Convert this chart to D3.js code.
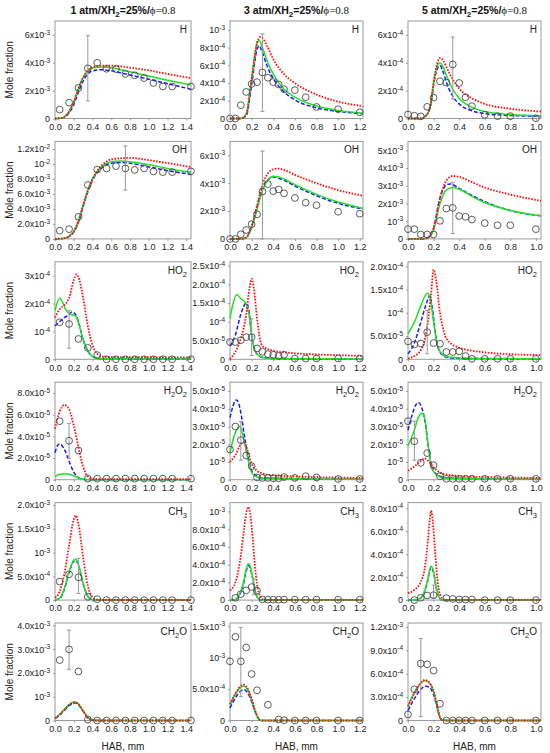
<!DOCTYPE html>
<html lang="en">
<head>
<meta charset="UTF-8">
<title>Mole fraction profiles</title>
<script src="https://d3js.org/d3.v7.min.js"></script>
<style>
  body { margin: 0; background: #fff; }
  svg { display: block; font-family: "Liberation Sans", Arial, sans-serif; }
  .tick text { fill: #222; font-size: 9px; }
  .tick line { stroke: #999; }
</style>
</head>
<body>
<script>
// ---- columns (pressure) ----
const titles = ["1 atm", "3 atm", "5 atm"];
const xMax = [1.45, 1.23, 1.04];
const xTicks = [
  [0, 0.2, 0.4, 0.6, 0.8, 1.0, 1.2, 1.4],
  [0, 0.2, 0.4, 0.6, 0.8, 1.0, 1.2],
  [0, 0.2, 0.4, 0.6, 0.8, 1.0]
];

// ---- H ----
const yMaxH = [7e-3, 1.1e-3, 7e-4];
const ticksH = [["0","2x10^-3","4x10^-3","6x10^-3"], ["0","2x10^-4","4x10^-4","6x10^-4","8x10^-4","10^-3"], ["0","2x10^-4","4x10^-4","6x10^-4"]];
const expH = [
  [[0.05,0.64e-3],[0.15,1.14e-3],[0.25,2.2e-3],[0.35,3.6e-3],[0.45,4.0e-3],[0.55,3.57e-3],[0.65,3.55e-3],[0.75,3.2e-3],[0.85,3.1e-3],[0.95,2.9e-3],[1.05,2.55e-3],[1.15,2.3e-3],[1.25,2.3e-3],[1.45,2.3e-3]],
  [[0,0],[0.05,0],[0.1,0.15e-3],[0.15,0.3e-3],[0.2,0.39e-3],[0.25,0.41e-3],[0.3,0.52e-3],[0.35,0.46e-3],[0.4,0.41e-3],[0.45,0.385e-3],[0.5,0.33e-3],[0.6,0.32e-3],[0.7,0.24e-3],[0.8,0.13e-3],[1.0,0.105e-3],[1.2,0.07e-3]],
  [[0,0.29e-4],[0.05,0.2e-4],[0.1,0.15e-4],[0.15,0.84e-4],[0.2,1.5e-4],[0.25,2.67e-4],[0.3,2.58e-4],[0.35,3.88e-4],[0.4,2.55e-4],[0.45,1.52e-4],[0.5,0.89e-4],[0.6,0.27e-4],[0.7,0.17e-4],[0.8,0.17e-4],[1.0,0.02e-4]]
];
const errH = [[0.35,1.26e-3,5.95e-3],[0.3,0.08e-3,0.955e-3],[0.35,1.4e-4,5.85e-4]];
const dottedH = [
  [[0,0],[0.05,0.02e-3],[0.1,0.12e-3],[0.15,0.5e-3],[0.2,1.2e-3],[0.25,2.15e-3],[0.3,2.95e-3],[0.35,3.45e-3],[0.4,3.68e-3],[0.5,3.8e-3],[0.6,3.8e-3],[0.8,3.65e-3],[1.0,3.45e-3],[1.2,3.2e-3],[1.45,2.9e-3]],
  [[0,0],[0.1,0],[0.15,0.05e-3],[0.2,0.45e-3],[0.25,0.85e-3],[0.28,0.92e-3],[0.3,0.91e-3],[0.35,0.8e-3],[0.4,0.67e-3],[0.5,0.5e-3],[0.6,0.4e-3],[0.8,0.27e-3],[1.0,0.19e-3],[1.23,0.14e-3]],
  [[0,0],[0.1,0],[0.15,0.3e-4],[0.18,1.2e-4],[0.2,2.6e-4],[0.23,4.0e-4],[0.25,4.35e-4],[0.28,4.1e-4],[0.3,3.7e-4],[0.35,2.8e-4],[0.4,2.15e-4],[0.5,1.45e-4],[0.6,1.05e-4],[0.8,0.7e-4],[1.04,0.5e-4]]
];
const solidH = [
  [[0,0],[0.05,0.02e-3],[0.1,0.12e-3],[0.15,0.5e-3],[0.2,1.2e-3],[0.25,2.15e-3],[0.3,2.95e-3],[0.35,3.4e-3],[0.4,3.62e-3],[0.5,3.7e-3],[0.6,3.65e-3],[0.8,3.35e-3],[1.0,3.05e-3],[1.2,2.75e-3],[1.45,2.4e-3]],
  [[0,0],[0.1,0],[0.15,0.05e-3],[0.2,0.45e-3],[0.25,0.85e-3],[0.27,0.88e-3],[0.3,0.8e-3],[0.35,0.63e-3],[0.4,0.5e-3],[0.5,0.33e-3],[0.6,0.24e-3],[0.8,0.14e-3],[1.0,0.09e-3],[1.23,0.06e-3]],
  [[0,0],[0.1,0],[0.15,0.3e-4],[0.18,1.2e-4],[0.2,2.5e-4],[0.23,3.8e-4],[0.25,4.0e-4],[0.28,3.6e-4],[0.3,3.1e-4],[0.35,2.1e-4],[0.4,1.45e-4],[0.5,0.8e-4],[0.6,0.5e-4],[0.8,0.28e-4],[1.04,0.18e-4]]
];
const dashedH = [
  [[0,0],[0.05,0.01e-3],[0.1,0.08e-3],[0.15,0.4e-3],[0.2,1.0e-3],[0.25,1.9e-3],[0.3,2.7e-3],[0.35,3.2e-3],[0.4,3.42e-3],[0.5,3.5e-3],[0.6,3.42e-3],[0.8,3.12e-3],[1.0,2.82e-3],[1.2,2.5e-3],[1.45,2.1e-3]],
  [[0,0],[0.1,0],[0.15,0.03e-3],[0.2,0.38e-3],[0.25,0.78e-3],[0.27,0.82e-3],[0.3,0.74e-3],[0.35,0.57e-3],[0.4,0.45e-3],[0.5,0.3e-3],[0.6,0.21e-3],[0.8,0.12e-3],[1.0,0.08e-3],[1.23,0.055e-3]],
  [[0,0],[0.1,0],[0.15,0.3e-4],[0.18,1.1e-4],[0.2,2.4e-4],[0.23,3.6e-4],[0.25,3.8e-4],[0.28,3.2e-4],[0.3,2.6e-4],[0.35,1.6e-4],[0.4,1.05e-4],[0.5,0.55e-4],[0.6,0.35e-4],[0.8,0.22e-4],[1.04,0.15e-4]]
];

// ---- OH ----
const yMaxOH = [1.3e-2, 7e-3, 5.5e-3];
const ticksOH = [["0","2.0x10^-3","4.0x10^-3","6.0x10^-3","8.0x10^-3","10^-2","1.2x10^-2"], ["0","2x10^-3","4x10^-3","6x10^-3"], ["0","10^-3","2x10^-3","3x10^-3","4x10^-3","5x10^-3"]];
const expOH = [
  [[0.05,1.1e-3],[0.15,1.3e-3],[0.25,2.95e-3],[0.35,7.2e-3],[0.45,9.25e-3],[0.55,9.4e-3],[0.65,9.7e-3],[0.75,9.4e-3],[0.85,9.2e-3],[0.95,9.4e-3],[1.05,9.0e-3],[1.15,8.9e-3],[1.25,8.9e-3],[1.45,9.0e-3]],
  [[0,0],[0.05,0],[0.1,0.33e-3],[0.15,0.64e-3],[0.2,1.06e-3],[0.25,1.76e-3],[0.3,3.4e-3],[0.35,3.93e-3],[0.4,3.43e-3],[0.45,3.55e-3],[0.5,3.27e-3],[0.6,2.94e-3],[0.7,2.6e-3],[0.8,2.42e-3],[1.0,1.95e-3],[1.2,1.81e-3]],
  [[0,0.55e-3],[0.05,0.55e-3],[0.1,0.25e-3],[0.15,0.25e-3],[0.2,0.25e-3],[0.25,1.02e-3],[0.3,1.71e-3],[0.35,1.75e-3],[0.4,1.29e-3],[0.45,1.25e-3],[0.5,1.09e-3],[0.6,0.89e-3],[0.7,0.77e-3],[0.8,0.77e-3],[1.0,0.55e-3]]
];
const errOH = [[0.75,6.5e-3,12.4e-3],[0.3,0,6.3e-3],[0.35,0.3e-3,3.2e-3]];
const dottedOH = [
  [[0,0],[0.1,0.1e-3],[0.15,0.35e-3],[0.2,1.0e-3],[0.25,2.4e-3],[0.3,4.5e-3],[0.35,6.5e-3],[0.4,8.0e-3],[0.5,9.8e-3],[0.6,10.6e-3],[0.8,10.8e-3],[1.0,10.5e-3],[1.2,10.1e-3],[1.45,9.6e-3]],
  [[0,0],[0.1,0],[0.15,0.1e-3],[0.2,0.9e-3],[0.25,2.4e-3],[0.3,3.9e-3],[0.35,4.7e-3],[0.4,5.0e-3],[0.45,5.05e-3],[0.5,4.95e-3],[0.6,4.6e-3],[0.8,4.0e-3],[1.0,3.5e-3],[1.23,3.1e-3]],
  [[0,0],[0.1,0],[0.15,0.05e-3],[0.2,0.6e-3],[0.25,2.3e-3],[0.3,3.3e-3],[0.35,3.55e-3],[0.4,3.5e-3],[0.5,3.2e-3],[0.6,2.9e-3],[0.8,2.5e-3],[1.04,2.15e-3]]
];
const solidOH = [
  [[0,0],[0.1,0.1e-3],[0.15,0.35e-3],[0.2,1.0e-3],[0.25,2.4e-3],[0.3,4.5e-3],[0.35,6.5e-3],[0.4,8.0e-3],[0.5,9.7e-3],[0.6,10.3e-3],[0.7,10.4e-3],[1.0,9.9e-3],[1.2,9.4e-3],[1.45,8.9e-3]],
  [[0,0],[0.1,0],[0.15,0.08e-3],[0.2,0.8e-3],[0.25,2.1e-3],[0.3,3.5e-3],[0.35,4.2e-3],[0.4,4.5e-3],[0.45,4.45e-3],[0.5,4.3e-3],[0.6,3.9e-3],[0.8,3.2e-3],[1.0,2.65e-3],[1.23,2.2e-3]],
  [[0,0],[0.1,0],[0.15,0.04e-3],[0.2,0.5e-3],[0.25,2.0e-3],[0.3,2.75e-3],[0.35,2.9e-3],[0.4,2.8e-3],[0.5,2.4e-3],[0.6,2.05e-3],[0.8,1.6e-3],[1.04,1.3e-3]]
];
const dashedOH = [
  [[0,0],[0.1,0.07e-3],[0.15,0.3e-3],[0.2,0.9e-3],[0.25,2.2e-3],[0.3,4.3e-3],[0.35,6.3e-3],[0.4,7.8e-3],[0.5,9.5e-3],[0.6,10.1e-3],[0.7,10.2e-3],[1.0,9.6e-3],[1.2,9.1e-3],[1.45,8.6e-3]],
  [[0,0],[0.1,0],[0.15,0.1e-3],[0.2,0.9e-3],[0.25,2.3e-3],[0.3,3.6e-3],[0.35,4.25e-3],[0.4,4.45e-3],[0.45,4.35e-3],[0.5,4.2e-3],[0.6,3.8e-3],[0.8,3.1e-3],[1.0,2.55e-3],[1.23,2.15e-3]],
  [[0,0],[0.1,0],[0.15,0.05e-3],[0.2,0.6e-3],[0.25,2.3e-3],[0.3,3.05e-3],[0.33,3.1e-3],[0.4,2.85e-3],[0.5,2.45e-3],[0.6,2.1e-3],[0.8,1.6e-3],[1.04,1.3e-3]]
];

// ---- HO2 ----
const yMaxHO2 = [3.5e-4, 2.6e-4, 2.1e-4];
const ticksHO2 = [["0","10^-4","2x10^-4","3x10^-4"], ["0","5.0x10^-5","10^-4","1.5x10^-4","2.0x10^-4","2.5x10^-4"], ["0","5.0x10^-5","10^-4","1.5x10^-4","2.0x10^-4"]];
const expHO2 = [
  [[0.05,1.33e-4],[0.15,1.27e-4],[0.25,0.73e-4],[0.35,0.41e-4],[0.45,0.15e-4],[0.55,0],[0.65,0],[0.75,0],[0.85,0],[0.95,0],[1.05,0],[1.15,0],[1.25,0],[1.45,0]],
  [[0,4.6e-5],[0.05,4.6e-5],[0.1,5.1e-5],[0.15,5.9e-5],[0.2,5.9e-5],[0.25,2.9e-5],[0.3,2.0e-5],[0.35,1.4e-5],[0.4,1.2e-5],[0.45,0.9e-5],[0.5,1.2e-5],[0.6,0.2e-5],[0.7,0.2e-5],[0.8,0.2e-5],[1.0,0.2e-5],[1.2,0.2e-5]],
  [[0,3.86e-5],[0.05,3.2e-5],[0.1,3.4e-5],[0.15,5.86e-5],[0.2,3.5e-5],[0.25,3.36e-5],[0.3,1.57e-5],[0.35,1.57e-5],[0.4,1.7e-5],[0.45,0.7e-5],[0.5,0.1e-5],[0.6,0.1e-5],[0.7,0.1e-5],[0.8,0.1e-5],[1.0,0.1e-5]]
];
const errHO2 = [[0.15,0.4e-4,1.75e-4],[0.2,1.0e-5,10.8e-5],[0.15,1.2e-5,10.5e-5]];
const dottedHO2 = [
  [[0,1.5e-4],[0.05,1.8e-4],[0.1,1.95e-4],[0.15,2.2e-4],[0.2,2.85e-4],[0.23,3.05e-4],[0.26,2.85e-4],[0.3,2.2e-4],[0.35,1.2e-4],[0.4,0.5e-4],[0.45,0.2e-4],[0.5,0.1e-4],[0.6,0.08e-4],[1.45,0.07e-4]],
  [[0,0.05e-5],[0.05,2e-5],[0.1,5.5e-5],[0.15,12e-5],[0.18,19e-5],[0.2,21.5e-5],[0.22,19e-5],[0.25,11e-5],[0.28,5e-5],[0.3,3.5e-5],[0.4,2.3e-5],[0.6,1.6e-5],[0.8,1.3e-5],[1.0,1.1e-5],[1.23,0.9e-5]],
  [[0,0.2e-5],[0.05,0.7e-5],[0.1,2e-5],[0.13,4e-5],[0.16,9e-5],[0.18,14e-5],[0.2,19.3e-5],[0.22,17e-5],[0.25,10e-5],[0.28,6e-5],[0.3,4.5e-5],[0.4,2.5e-5],[0.6,1.5e-5],[0.8,1.1e-5],[1.04,0.9e-5]]
];
const solidHO2 = [
  [[0,1.75e-4],[0.05,2.2e-4],[0.08,2.05e-4],[0.12,1.75e-4],[0.18,1.6e-4],[0.22,1.55e-4],[0.25,1.3e-4],[0.3,0.7e-4],[0.35,0.3e-4],[0.4,0.1e-4],[0.5,0.02e-4],[1.45,0.01e-4]],
  [[0,11e-5],[0.03,15e-5],[0.06,17.3e-5],[0.1,16.2e-5],[0.15,14.8e-5],[0.18,11e-5],[0.2,6e-5],[0.23,2.5e-5],[0.27,0.9e-5],[0.3,0.5e-5],[0.4,0.2e-5],[1.23,0.05e-5]],
  [[0,5.5e-5],[0.05,8e-5],[0.1,11.5e-5],[0.15,14.2e-5],[0.17,13.5e-5],[0.2,8e-5],[0.23,3e-5],[0.27,1e-5],[0.3,0.6e-5],[0.4,0.3e-5],[1.04,0.1e-5]]
];
const dashedHO2 = [
  [[0,1.2e-4],[0.05,1.35e-4],[0.1,1.5e-4],[0.15,1.6e-4],[0.18,1.7e-4],[0.22,1.6e-4],[0.25,1.35e-4],[0.3,0.7e-4],[0.35,0.3e-4],[0.4,0.1e-4],[0.5,0.02e-4],[1.45,0.01e-4]],
  [[0,3.5e-5],[0.05,6.5e-5],[0.1,12e-5],[0.15,15e-5],[0.18,12e-5],[0.2,6.5e-5],[0.23,2.5e-5],[0.27,0.9e-5],[0.3,0.5e-5],[0.4,0.2e-5],[1.23,0.05e-5]],
  [[0,1.2e-5],[0.05,3.5e-5],[0.1,8e-5],[0.15,12.5e-5],[0.17,13.7e-5],[0.19,11e-5],[0.22,4.5e-5],[0.25,1.5e-5],[0.3,0.5e-5],[0.4,0.2e-5],[1.04,0.1e-5]]
];

// ---- H2O2 ----
const yMaxH2O2 = [9e-5, 5.5e-5, 5.5e-5];
const ticksH2O2 = [["0","2.0x10^-5","4.0x10^-5","6.0x10^-5","8.0x10^-5"], ["0","10^-5","2.0x10^-5","3.0x10^-5","4.0x10^-5","5.0x10^-5"], ["0","10^-5","2.0x10^-5","3.0x10^-5","4.0x10^-5","5.0x10^-5"]];
const expH2O2 = [
  [[0.05,5.4e-5],[0.15,3.6e-5],[0.25,2.7e-5],[0.35,0.1e-5],[0.45,0.1e-5],[0.55,0.1e-5],[0.65,0.1e-5],[0.75,0.1e-5],[0.85,0.1e-5],[0.95,0.1e-5],[1.05,0.1e-5],[1.15,0.1e-5],[1.25,0.1e-5],[1.45,0.1e-5]],
  [[0,1.7e-5],[0.05,3.0e-5],[0.1,2.23e-5],[0.15,1.37e-5],[0.2,0.76e-5],[0.25,0.13e-5],[0.3,0.1e-5],[0.35,0.1e-5],[0.4,0.08e-5],[0.45,0.08e-5],[0.5,0.15e-5],[0.6,0.1e-5],[0.7,0.2e-5],[0.8,0.13e-5],[1.0,0.04e-5],[1.2,0.04e-5]],
  [[0,3.3e-5],[0.05,2.17e-5],[0.1,0.95e-5],[0.15,1.5e-5],[0.2,0.82e-5],[0.25,0.2e-5],[0.3,0.05e-5],[0.35,0.05e-5],[0.4,0.05e-5],[0.45,0.05e-5],[0.5,0.05e-5],[0.6,0.05e-5],[0.7,0.05e-5],[0.8,0.05e-5],[1.0,0.05e-5]]
];
const errH2O2 = [[0.15,1.95e-5,5.2e-5],[0.1,1.1e-5,3.28e-5],[0.05,1.1e-5,3.3e-5]];
const dottedH2O2 = [
  [[0,4.7e-5],[0.05,6.3e-5],[0.1,6.9e-5],[0.15,6.5e-5],[0.2,5.0e-5],[0.25,3.0e-5],[0.3,1.2e-5],[0.35,0.3e-5],[0.4,0.1e-5],[0.5,0.05e-5],[1.45,0.05e-5]],
  [[0,1.0e-5],[0.05,1.4e-5],[0.1,2.0e-5],[0.13,2.1e-5],[0.16,1.7e-5],[0.2,0.9e-5],[0.25,0.5e-5],[0.3,0.35e-5],[0.4,0.25e-5],[0.6,0.18e-5],[1.0,0.12e-5],[1.23,0.1e-5]],
  [[0,0.5e-5],[0.05,0.75e-5],[0.1,1.05e-5],[0.13,1.2e-5],[0.16,1.05e-5],[0.2,0.7e-5],[0.25,0.4e-5],[0.3,0.3e-5],[0.4,0.2e-5],[0.6,0.15e-5],[1.04,0.1e-5]]
];
const solidH2O2 = [
  [[0,0.3e-5],[0.05,0.5e-5],[0.1,0.55e-5],[0.15,0.5e-5],[0.2,0.35e-5],[0.25,0.15e-5],[0.3,0.05e-5],[0.35,0],[1.45,0]],
  [[0,1.5e-5],[0.03,2.3e-5],[0.06,2.8e-5],[0.09,3.0e-5],[0.12,2.5e-5],[0.15,1.6e-5],[0.18,0.8e-5],[0.2,0.4e-5],[0.25,0.15e-5],[0.3,0.08e-5],[1.23,0.02e-5]],
  [[0,1.9e-5],[0.05,2.8e-5],[0.08,3.5e-5],[0.11,3.75e-5],[0.13,3.5e-5],[0.16,1.8e-5],[0.18,0.8e-5],[0.2,0.45e-5],[0.25,0.15e-5],[0.3,0.08e-5],[1.04,0.02e-5]]
];
const dashedH2O2 = [
  [[0,2.5e-5],[0.03,3.2e-5],[0.05,3.3e-5],[0.1,2.8e-5],[0.15,1.7e-5],[0.2,0.7e-5],[0.25,0.2e-5],[0.3,0.05e-5],[0.4,0],[1.45,0]],
  [[0,3.5e-5],[0.03,4.2e-5],[0.06,4.5e-5],[0.1,3.8e-5],[0.13,2.6e-5],[0.17,1.2e-5],[0.2,0.5e-5],[0.25,0.2e-5],[0.3,0.1e-5],[1.23,0.02e-5]],
  [[0,2.8e-5],[0.03,3.6e-5],[0.06,4.2e-5],[0.08,4.35e-5],[0.1,4.2e-5],[0.13,3.4e-5],[0.16,1.8e-5],[0.18,0.9e-5],[0.2,0.5e-5],[0.25,0.2e-5],[0.3,0.1e-5],[1.04,0.02e-5]]
];

// ---- CH3 ----
const yMaxCH3 = [2.05e-3, 1.1e-3, 8.5e-4];
const ticksCH3 = [["0","5.0x10^-4","10^-3","1.5x10^-3","2.0x10^-3"], ["0","2.0x10^-4","4.0x10^-4","6.0x10^-4","8.0x10^-4","10^-3"], ["0","2.0x10^-4","4.0x10^-4","6.0x10^-4","8.0x10^-4"]];
const expCH3 = [
  [[0.05,3.9e-4],[0.15,5.4e-4],[0.25,4.8e-4],[0.35,0.7e-4],[0.45,0.2e-4],[0.55,0],[0.65,0],[0.75,0],[0.85,0],[0.95,0],[1.05,0],[1.15,0],[1.25,0],[1.45,0]],
  [[0.05,0.26e-4],[0.1,0.68e-4],[0.15,1.1e-4],[0.2,1.47e-4],[0.25,1.06e-4],[0.3,0.08e-4],[0.35,0.05e-4],[0.4,0.05e-4],[0.45,0.05e-4],[0.5,0.05e-4],[0.6,0.05e-4],[0.7,0.05e-4],[0.8,0.05e-4],[1.0,0.05e-4],[1.2,0.05e-4]],
  [[0.05,0],[0.1,0.2e-4],[0.15,0.4e-4],[0.2,0.43e-4],[0.3,0.17e-4],[0.35,0.1e-4],[0.4,0.05e-4],[0.45,0.05e-4],[0.5,0.05e-4],[0.6,0],[0.7,0],[0.8,0],[1.0,0]]
];
const errCH3 = [[0.25,1.4e-4,8.8e-4],[0.22,0.6e-4,2.4e-4],[0.2,0.15e-4,1.3e-4]];
const dottedCH3 = [
  [[0,0.5e-4],[0.05,1.8e-4],[0.1,5.5e-4],[0.15,11.5e-4],[0.2,17e-4],[0.22,17.8e-4],[0.25,16e-4],[0.3,9e-4],[0.35,3e-4],[0.4,0.7e-4],[0.45,0.1e-4],[0.5,0.02e-4],[1.45,0.02e-4]],
  [[0,1.1e-4],[0.05,2.0e-4],[0.08,3.5e-4],[0.1,5e-4],[0.13,8e-4],[0.15,9.8e-4],[0.17,10.5e-4],[0.19,9.5e-4],[0.21,7e-4],[0.23,4e-4],[0.25,1.8e-4],[0.28,0.4e-4],[0.3,0.1e-4],[0.35,0.02e-4],[1.23,0.02e-4]],
  [[0,0.6e-4],[0.05,0.9e-4],[0.1,1.6e-4],[0.13,2.7e-4],[0.15,4.5e-4],[0.17,7e-4],[0.18,7.8e-4],[0.19,7.3e-4],[0.21,4.5e-4],[0.23,1.8e-4],[0.25,0.5e-4],[0.28,0.05e-4],[0.3,0.02e-4],[1.04,0.02e-4]]
];
const solidCH3 = [
  [[0,0.02e-4],[0.05,0.4e-4],[0.1,2.5e-4],[0.15,6e-4],[0.2,8.4e-4],[0.22,8.6e-4],[0.25,7.5e-4],[0.3,3.5e-4],[0.35,0.8e-4],[0.4,0.1e-4],[0.45,0],[1.45,0]],
  [[0,0],[0.05,0.05e-4],[0.08,0.5e-4],[0.1,1e-4],[0.13,2.3e-4],[0.15,3.5e-4],[0.17,4.1e-4],[0.19,3.7e-4],[0.21,2.5e-4],[0.23,1.2e-4],[0.25,0.4e-4],[0.28,0.05e-4],[0.3,0],[1.23,0]],
  [[0,0],[0.05,0],[0.1,0.2e-4],[0.13,0.8e-4],[0.15,1.6e-4],[0.17,2.7e-4],[0.18,2.95e-4],[0.2,2.5e-4],[0.22,1.2e-4],[0.24,0.3e-4],[0.26,0.03e-4],[0.3,0],[1.04,0]]
];
const dashedCH3 = [
  [[0,0.02e-4],[0.05,0.35e-4],[0.1,2.3e-4],[0.15,5.8e-4],[0.2,8.2e-4],[0.22,8.4e-4],[0.25,7.3e-4],[0.3,3.4e-4],[0.35,0.8e-4],[0.4,0.1e-4],[0.45,0],[1.45,0]],
  [[0,0],[0.05,0.05e-4],[0.08,0.45e-4],[0.1,0.9e-4],[0.13,2.1e-4],[0.15,3.3e-4],[0.17,3.9e-4],[0.19,3.5e-4],[0.21,2.4e-4],[0.23,1.1e-4],[0.25,0.4e-4],[0.28,0.05e-4],[0.3,0],[1.23,0]],
  [[0,0],[0.05,0],[0.1,0.2e-4],[0.13,0.75e-4],[0.15,1.5e-4],[0.17,2.6e-4],[0.18,2.85e-4],[0.2,2.4e-4],[0.22,1.1e-4],[0.24,0.3e-4],[0.26,0.03e-4],[0.3,0],[1.04,0]]
];

// ---- CH2O ----
const yMaxCH2O = [4.1e-3, 1.55e-3, 1.25e-3];
const ticksCH2O = [["0","10^-3","2.0x10^-3","3.0x10^-3","4.0x10^-3"], ["0","5.0x10^-4","10^-3","1.5x10^-3"], ["0","3.0x10^-4","6.0x10^-4","9.0x10^-4","1.2x10^-3"]];
const expCH2O = [
  [[0.05,2.54e-3],[0.15,2.99e-3],[0.25,2.06e-3],[0.35,0.04e-3],[0.45,0],[0.55,0],[0.65,0],[0.75,0],[0.85,0],[0.95,0],[1.05,0],[1.15,0],[1.25,0],[1.45,0]],
  [[0,9.4e-4],[0.05,13.3e-4],[0.1,9.4e-4],[0.15,11.6e-4],[0.2,7.4e-4],[0.25,4.8e-4],[0.35,2.5e-4],[0.45,0.16e-4],[0.5,0.05e-4],[0.6,0],[0.7,0],[0.8,0],[1.0,0],[1.2,0]],
  [[0,0.77e-4],[0.05,4.0e-4],[0.1,7.3e-4],[0.15,7.2e-4],[0.2,6.4e-4],[0.25,2.15e-4],[0.3,0],[0.35,0],[0.4,0],[0.45,0],[0.5,0],[0.6,0],[0.7,0],[0.8,0],[1.0,0]]
];
const errCH2O = [[0.15,2.15e-3,3.8e-3],[0.1,3.8e-4,14.8e-4],[0.1,0.5e-4,10.5e-4]];
const dottedCH2O = [
  [[0,0.1e-3],[0.05,0.25e-3],[0.1,0.45e-3],[0.15,0.65e-3],[0.2,0.75e-3],[0.22,0.76e-3],[0.25,0.68e-3],[0.3,0.4e-3],[0.35,0.12e-3],[0.4,0.02e-3],[0.45,0],[1.45,0]],
  [[0,2.6e-4],[0.05,4.3e-4],[0.1,5.5e-4],[0.13,5.7e-4],[0.16,5.2e-4],[0.2,3.5e-4],[0.23,1.7e-4],[0.26,0.4e-4],[0.28,0.05e-4],[0.3,0],[1.23,0]],
  [[0,1.8e-4],[0.05,3.5e-4],[0.1,4.8e-4],[0.13,5.2e-4],[0.16,5.0e-4],[0.2,3.8e-4],[0.23,1.8e-4],[0.25,0.4e-4],[0.27,0.05e-4],[0.3,0],[1.04,0]]
];
const solidCH2O = [
  [[0,0.1e-3],[0.05,0.26e-3],[0.1,0.47e-3],[0.15,0.67e-3],[0.2,0.78e-3],[0.22,0.78e-3],[0.25,0.7e-3],[0.3,0.41e-3],[0.35,0.12e-3],[0.4,0.02e-3],[0.45,0],[1.45,0]],
  [[0,2.5e-4],[0.05,4.2e-4],[0.1,5.3e-4],[0.13,5.5e-4],[0.16,5.0e-4],[0.2,3.3e-4],[0.23,1.6e-4],[0.26,0.4e-4],[0.28,0.05e-4],[0.3,0],[1.23,0]],
  [[0,1.9e-4],[0.05,3.6e-4],[0.1,4.8e-4],[0.13,5.1e-4],[0.16,4.9e-4],[0.2,3.7e-4],[0.23,1.7e-4],[0.25,0.4e-4],[0.27,0.05e-4],[0.3,0],[1.04,0]]
];
const dashedCH2O = [
  [[0,0.08e-3],[0.05,0.23e-3],[0.1,0.43e-3],[0.15,0.62e-3],[0.2,0.73e-3],[0.22,0.74e-3],[0.25,0.66e-3],[0.3,0.39e-3],[0.35,0.11e-3],[0.4,0.02e-3],[0.45,0],[1.45,0]],
  [[0,2.0e-4],[0.05,3.6e-4],[0.1,4.7e-4],[0.13,4.9e-4],[0.16,4.5e-4],[0.2,3.0e-4],[0.23,1.5e-4],[0.26,0.4e-4],[0.28,0.05e-4],[0.3,0],[1.23,0]],
  [[0,1.3e-4],[0.05,2.8e-4],[0.1,4.0e-4],[0.14,4.4e-4],[0.17,4.2e-4],[0.2,3.3e-4],[0.23,1.5e-4],[0.25,0.35e-4],[0.27,0.05e-4],[0.3,0],[1.04,0]]
];

// table built from the arrays above, one entry per row of panels
const rows = [
  { name: "H",    yMax: yMaxH,    ticks: ticksH,    exp: expH,    err: errH,    dotted: dottedH,    solid: solidH,    dashed: dashedH },
  { name: "OH",   yMax: yMaxOH,   ticks: ticksOH,   exp: expOH,   err: errOH,   dotted: dottedOH,   solid: solidOH,   dashed: dashedOH },
  { name: "HO2",  yMax: yMaxHO2,  ticks: ticksHO2,  exp: expHO2,  err: errHO2,  dotted: dottedHO2,  solid: solidHO2,  dashed: dashedHO2 },
  { name: "H2O2", yMax: yMaxH2O2, ticks: ticksH2O2, exp: expH2O2, err: errH2O2, dotted: dottedH2O2, solid: solidH2O2, dashed: dashedH2O2 },
  { name: "CH3",  yMax: yMaxCH3,  ticks: ticksCH3,  exp: expCH3,  err: errCH3,  dotted: dottedCH3,  solid: solidCH3,  dashed: dashedCH3 },
  { name: "CH2O", yMax: yMaxCH2O, ticks: ticksCH2O, exp: expCH2O, err: errCH2O, dotted: dottedCH2O, solid: solidCH2O, dashed: dashedCH2O }
];

// ---- layout ----
const W = 550, H = 753;
const panelLeft = [55, 230, 408];
const panelW = [136, 133, 133];
const top0 = 21, rowStep = 120.4, panelH = 97.5;

const svg = d3.select("body").append("svg")
  .attr("width", W)
  .attr("height", H);

// "2.0x10^-3" -> 0.002 ; "10^-3" -> 0.001 ; "0" -> 0
function tickValue(label) {
  const m = label.match(/^(?:(.+)x)?10\^(-?\d+)$/);
  if (!m) return +label;
  return (m[1] ? +m[1] : 1) * Math.pow(10, +m[2]);
}

function writeTick(textSel, label) {
  const m = label.match(/^(?:(.+)x)?10\^(-?\d+)$/);
  textSel.text(null);
  if (!m) { textSel.text(label); return; }
  textSel.append("tspan").text((m[1] ? m[1] + "x" : "") + "10");
  textSel.append("tspan").attr("dy", "-0.5em").style("font-size", "6.5px").text(m[2]);
}

// chemical formula with subscript digits
function writeFormula(textSel, formula) {
  let sub = false;
  formula.split("").forEach(ch => {
    const isDigit = /\d/.test(ch);
    const t = textSel.append("tspan").text(ch);
    if (isDigit && !sub) { t.attr("dy", 3).style("font-size", "7.5px"); sub = true; }
    else if (isDigit) { t.style("font-size", "7.5px"); }
    else if (sub) { t.attr("dy", -3); sub = false; }
  });
}

const line = (x, y) => d3.line().x(d => x(d[0])).y(d => y(d[1])).curve(d3.curveMonotoneX);

rows.forEach((row, r) => {
  titles.forEach((title, c) => {
    const left = panelLeft[c], top = top0 + r * rowStep, w = panelW[c];
    const g = svg.append("g").attr("transform", `translate(${left},${top})`);

    const x = d3.scaleLinear().domain([0, xMax[c]]).range([0, w]);
    const y = d3.scaleLinear().domain([0, row.yMax[c]]).range([panelH, 0]);

    // y axis with 10^n labels
    const yLabels = row.ticks[c];
    const yAx = g.append("g")
      .call(d3.axisLeft(y).tickValues(yLabels.map(tickValue)).tickSize(2).tickPadding(3));
    yAx.select(".domain").remove();
    yAx.selectAll(".tick text").each(function (d, i) { writeTick(d3.select(this), yLabels[i]); });

    const xAx = g.append("g")
      .attr("transform", `translate(0,${panelH})`)
      .call(d3.axisBottom(x).tickValues(xTicks[c]).tickFormat(d3.format(".1f")).tickSize(2).tickPadding(3));
    xAx.select(".domain").remove();

    g.append("rect")
      .attr("width", w).attr("height", panelH)
      .attr("fill", "none").attr("stroke", "#999").attr("stroke-width", 1);

    // model curves
    g.append("path").datum(row.dashed[c])
      .attr("d", line(x, y)).attr("fill", "none")
      .attr("stroke", "#1a1aff").attr("stroke-width", 1.5).attr("stroke-dasharray", "4,2");
    g.append("path").datum(row.solid[c])
      .attr("d", line(x, y)).attr("fill", "none")
      .attr("stroke", "#22e022").attr("stroke-width", 1.5);
    g.append("path").datum(row.dotted[c])
      .attr("d", line(x, y)).attr("fill", "none")
      .attr("stroke", "#ff1010").attr("stroke-width", 1.8).attr("stroke-dasharray", "1.6,1.4");

    // error bar
    const [ex, lo, hi] = row.err[c];
    const eb = g.append("g").attr("stroke", "#999").attr("stroke-width", 1);
    eb.append("line").attr("x1", x(ex)).attr("x2", x(ex)).attr("y1", y(lo)).attr("y2", y(hi));
    [lo, hi].forEach(v => eb.append("line")
      .attr("x1", x(ex) - 2).attr("x2", x(ex) + 2).attr("y1", y(v)).attr("y2", y(v)));

    // measured points
    g.selectAll("circle.exp").data(row.exp[c]).join("circle")
      .attr("class", "exp")
      .attr("cx", d => x(d[0])).attr("cy", d => y(d[1])).attr("r", 3.4)
      .attr("fill", "none").attr("stroke", "#4a4a4a").attr("stroke-width", 0.9);

    // species label
    const lab = g.append("text")
      .attr("x", w - 4).attr("y", 12)
      .attr("text-anchor", "end").attr("font-size", 10).attr("fill", "#222");
    writeFormula(lab, row.name);

    if (c === 0) {
      svg.append("text")
        .attr("transform", `translate(13,${top + panelH / 2}) rotate(-90)`)
        .attr("text-anchor", "middle").attr("font-size", 10).attr("fill", "#222")
        .text("Mole fraction");
    }
    if (r === 0) {
      const t = svg.append("text")
        .attr("x", left + w / 2).attr("y", 14)
        .attr("text-anchor", "middle").attr("font-size", 10.5).attr("font-weight", "bold").attr("fill", "#111");
      t.append("tspan").text(title + "/XH");
      t.append("tspan").attr("dy", 3).style("font-size", "8px").text("2");
      t.append("tspan").attr("dy", -3).text("=25%/");
      t.append("tspan").style("font-family", "'Liberation Serif', serif").style("font-weight", "normal").style("font-size", "11px").text("ϕ=0.8");
    }
    if (r === rows.length - 1) {
      svg.append("text")
        .attr("x", left + w / 2).attr("y", top + panelH + 29)
        .attr("text-anchor", "middle").attr("font-size", 10).attr("fill", "#222")
        .text("HAB, mm");
    }
  });
});
</script>
</body>
</html>
